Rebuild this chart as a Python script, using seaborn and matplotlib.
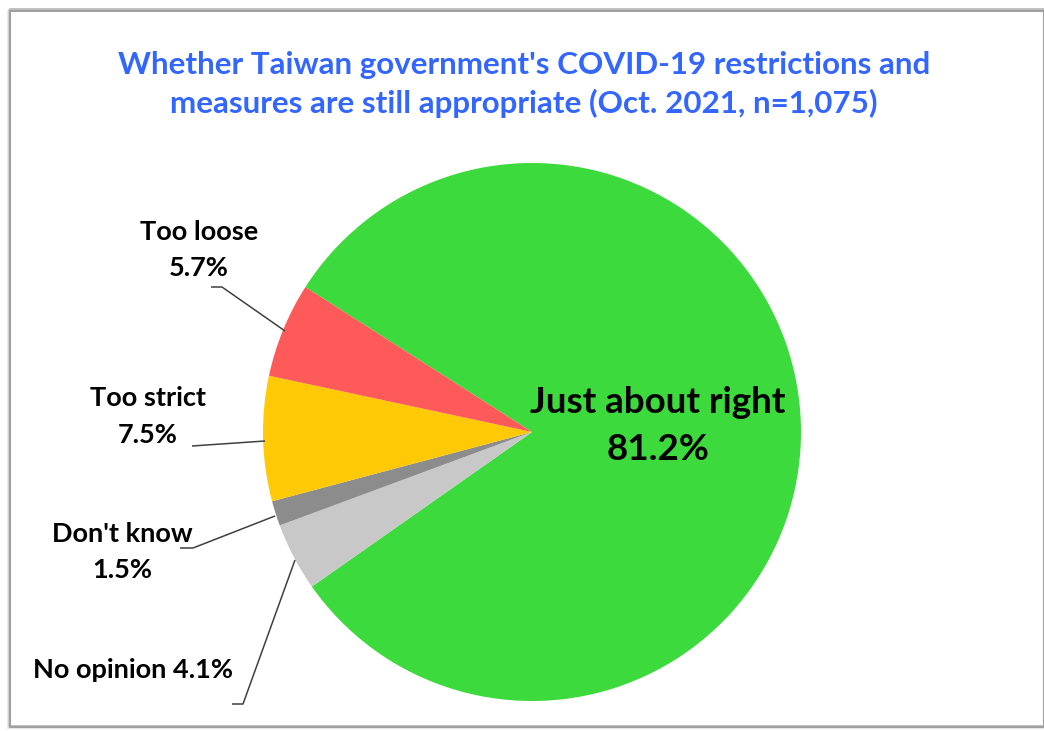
import matplotlib
matplotlib.use("Agg")
import matplotlib.pyplot as plt
import seaborn as sns
from matplotlib.patches import Rectangle

# ---- data ----
categories = ["Just about right", "No opinion", "Don't know", "Too strict", "Too loose"]
values = [81.2, 4.1, 1.5, 7.5, 5.7]
title_lines = ["Whether Taiwan government's COVID-19 restrictions and",
               "measures are still appropriate (Oct. 2021, n=1,075)"]

sns.set_theme(style="white")
plt.rcParams['font.family'] = ['Lato', 'DejaVu Sans']

colors = sns.color_palette(["#3CDA3C", "#C8C8C8", "#8C8C8C", "#FFC906", "#FF5A5A"])

W, H = 1044, 731
fig = plt.figure(figsize=(W / 100, H / 100), dpi=100)
fig.patch.set_facecolor("white")
ax = fig.add_axes([0, 0, 1, 1])

def Y(y):
    return H - y

cx, cy, r = 532, 432, 269
ax.pie(values, colors=colors, startangle=147.4, counterclock=False,
       center=(cx, Y(cy)), radius=r, wedgeprops=dict(linewidth=0))
ax.set_xlim(0, W)
ax.set_ylim(0, H)
ax.set_aspect("equal")
ax.axis("off")

# frame with shadow
for i, c in enumerate(["#E6E6E6", "#D0D0D0", "#B8B8B8"]):
    fig.add_artist(Rectangle(((8 + i) / W, (H - 728 + i) / H), (1044 - 8) / W, (728 - 11) / H,
                             transform=fig.transFigure, fill=False, edgecolor=c,
                             linewidth=1.2, zorder=0))
fig.add_artist(Rectangle((10 / W, (H - 727) / H), (1044 - 10) / W, (727 - 11) / H,
                         transform=fig.transFigure, fill=False, edgecolor="#A0A0A0",
                         linewidth=1.5, zorder=0))

# title
blue = "#3366FF"
ax.text(524, Y(74), title_lines[0], ha="center", va="baseline", fontsize=22.6,
        fontweight="bold", color=blue)
ax.text(524, Y(113), title_lines[1], ha="center", va="baseline", fontsize=22.6,
        fontweight="bold", color=blue)

fs = 19.5
lab = dict(ha="center", va="baseline", fontsize=fs, fontweight="bold", color="black")
# Too loose
ax.text(199, Y(240), categories[4], **lab)
ax.text(199, Y(276), f"{values[4]:.1f}%", **lab)
# Too strict
ax.text(148, Y(406), categories[3], **lab)
ax.text(148, Y(443), f"{values[3]:.1f}%", **lab)
# Don't know
ax.text(122, Y(542), categories[2], **lab)
ax.text(122, Y(578), f"{values[2]:.1f}%", **lab)
# No opinion
ax.text(133, Y(678), f"{categories[1]} {values[1]:.1f}%", **lab)
# Just about right
big = dict(ha="center", va="baseline", fontsize=26.5, fontweight="bold", color="black")
ax.text(658, Y(413), categories[0], **big)
ax.text(658, Y(460), f"{values[0]:.1f}%", **big)

# leader lines
lc = dict(color="#404040", linewidth=1.1, solid_capstyle="butt")
ax.plot([211, 222, 285], [Y(287), Y(287), Y(331)], **lc)
ax.plot([192, 265], [Y(446), Y(441)], **lc)
ax.plot([180, 193, 275], [Y(548), Y(548), Y(516)], **lc)
ax.plot([232, 243, 295], [Y(704), Y(704), Y(560)], **lc)

fig.savefig("out.png", dpi=100, facecolor="white")
